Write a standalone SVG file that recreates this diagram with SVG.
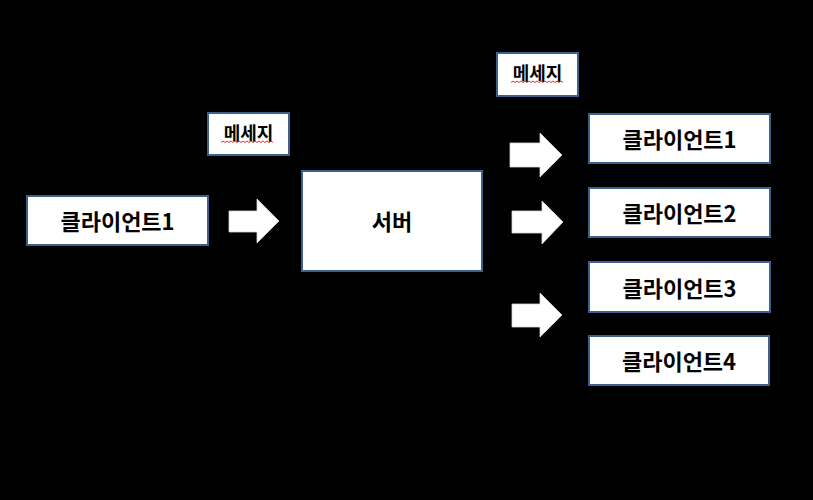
<svg xmlns="http://www.w3.org/2000/svg" width="813" height="500" viewBox="0 0 813 500">
<defs>
<style>
.box{fill:#ffffff;stroke:#3f5f8f;stroke-width:2}
.t{font-family:"Noto Sans CJK KR","Noto Sans",sans-serif;font-weight:bold;fill:#000;text-anchor:middle;dominant-baseline:central}
.big{font-size:22px}
.small{font-size:18px}
.arrow{fill:#ffffff;stroke:#d8d8d8;stroke-width:0.8}
.sq{fill:none;stroke:#e03030;stroke-width:1}
</style>
</defs>
<rect x="0" y="0" width="813" height="500" fill="#000"/>
<g id="connectors">
<polygon class="arrow" points="229,211 257,211 257,199 279,221 257,243 257,232 229,232"/>
<polygon class="arrow" points="510,143 540,143 540,133 562,155 540,177 540,167 510,167"/>
<polygon class="arrow" points="512,211 542,211 542,201 563,222 542,244 542,233 512,233"/>
<polygon class="arrow" points="512,304 540,304 540,293 562,315 540,337 540,327 512,327"/>
</g>
<g id="msg1">
<rect class="box" x="208" y="113" width="81" height="42"/>
<text class="t small" x="248.5" y="132">메세지</text>
<path class="sq" d="M221,142.5 l2,-1.5 l2,1.5 l2,-1.5 l2,1.5 l2,-1.5 l2,1.5 l2,-1.5 l2,1.5 l2,-1.5 l2,1.5 l2,-1.5 l2,1.5 l2,-1.5 l2,1.5 l2,-1.5 l2,1.5 l2,-1.5 l2,1.5 l2,-1.5 l2,1.5 l2,-1.5 l2,1.5 l2,-1.5 l2,1.5 l2,-1.5 l2,1.5"/>
</g>
<g id="msg2">
<rect class="box" x="497" y="53" width="81" height="43"/>
<text class="t small" x="537.5" y="72">메세지</text>
<path class="sq" d="M511,82.5 l2,-1.5 l2,1.5 l2,-1.5 l2,1.5 l2,-1.5 l2,1.5 l2,-1.5 l2,1.5 l2,-1.5 l2,1.5 l2,-1.5 l2,1.5 l2,-1.5 l2,1.5 l2,-1.5 l2,1.5 l2,-1.5 l2,1.5 l2,-1.5 l2,1.5 l2,-1.5 l2,1.5 l2,-1.5 l2,1.5 l2,-1.5 l2,1.5"/>
</g>
<g id="client1-left">
<rect class="box" x="27" y="196" width="181" height="49"/>
<text class="t big" x="117.5" y="220">클라이언트1</text>
</g>
<g id="server">
<rect class="box" x="302" y="171" width="180" height="100"/>
<text class="t big" x="392" y="220">서버</text>
</g>
<g id="client1">
<rect class="box" x="589" y="114" width="181" height="49"/>
<text class="t big" x="679.5" y="138">클라이언트1</text>
</g>
<g id="client2">
<rect class="box" x="589" y="188" width="181" height="49"/>
<text class="t big" x="679.5" y="212">클라이언트2</text>
</g>
<g id="client3">
<rect class="box" x="589" y="262" width="181" height="50"/>
<text class="t big" x="679.5" y="286.5">클라이언트3</text>
</g>
<g id="client4">
<rect class="box" x="589" y="336" width="180" height="49"/>
<text class="t big" x="679" y="360">클라이언트4</text>
</g>
</svg>
